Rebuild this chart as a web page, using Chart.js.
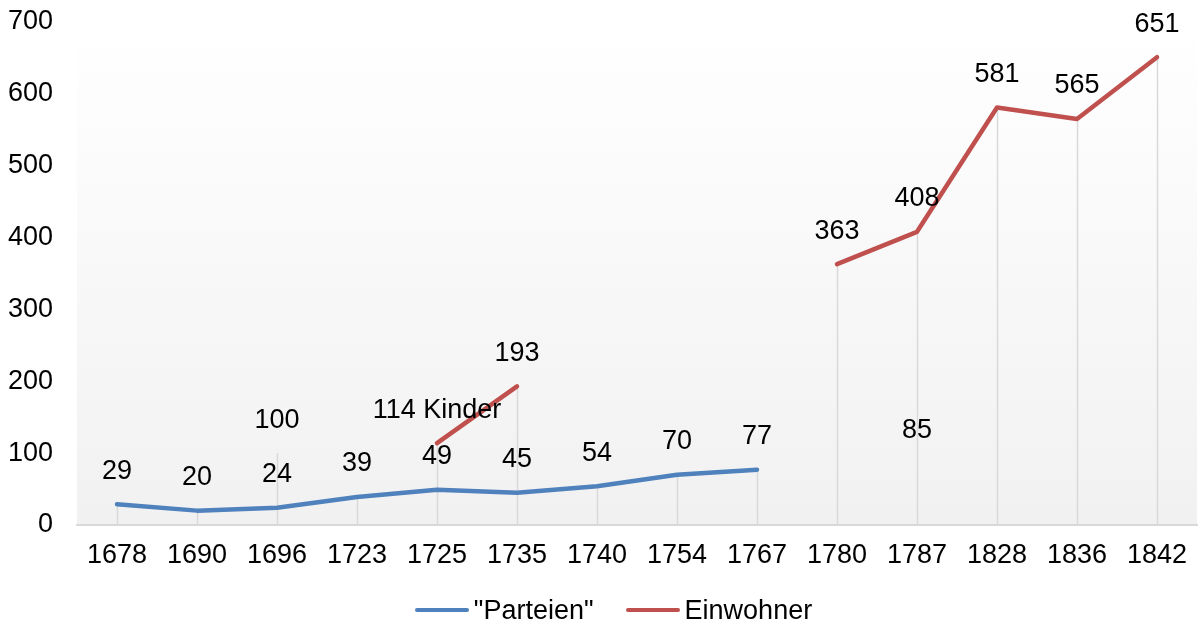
<!DOCTYPE html>
<html>
<head>
<meta charset="utf-8">
<script src="https://cdn.jsdelivr.net/npm/chart.js@4.4.1/dist/chart.umd.min.js"></script>
<style>
  html, body { margin: 0; padding: 0; background: #ffffff; }
  #wrap { width: 1203px; height: 626px; position: relative; overflow: hidden; }
  #legend { position: absolute; left: 12px; width: 1203px; top: 594px; height: 32px;
    display: flex; justify-content: center; align-items: center;
    font-family: 'Liberation Sans', Arial, sans-serif; font-size: 27px; line-height: 32px; color: #000; }
  .item { display: flex; align-items: center; margin: 0 16px; white-space: pre; }
  .swatch { display: inline-block; width: 54px; height: 4px; border-radius: 2px; margin-right: 5px; }
</style>
</head>
<body>
<div id="wrap"><canvas id="c" width="1203" height="626"></canvas><div id="legend"></div></div>
<script>
const years = ['1678','1690','1696','1723','1725','1735','1740','1754','1767','1780','1787','1828','1836','1842'];
const parteien = [29, 20, 24, 39, 49, 45, 54, 70, 77, null, null, null, null, null];
const einwohner = [null, null, null, null, 114, 193, null, null, null, 363, 408, 581, 565, 651];
const einwohnerNotes = [null, null, null, null, 'Kinder', null, null, null, null, null, null, null, null, null];
const extraValues = [null, null, 100, null, null, null, null, null, null, null, 85, null, null, null];
const yTicks = [0, 100, 200, 300, 400, 500, 600, 700];
const seriesNames = ['"Parteien"', 'Einwohner'];
const seriesColors = ['#4f81bd', '#c0504d'];

const FONT = "'Liberation Sans', Arial, sans-serif";
const FS = 27;

const bgPlugin = {
  id: 'bgGrad',
  beforeDraw(chart) {
    const { ctx, chartArea: a } = chart;
    const g = ctx.createLinearGradient(0, a.top, 0, a.bottom);
    g.addColorStop(0, '#ffffff');
    g.addColorStop(1, '#f1f1f1');
    ctx.save();
    ctx.fillStyle = g;
    ctx.fillRect(a.left, a.top, a.right - a.left, a.bottom - a.top);
    ctx.restore();
  }
};

const dropLines = {
  id: 'dropLines',
  beforeDatasetsDraw(chart) {
    const { ctx, scales: { x, y } } = chart;
    ctx.save();
    ctx.strokeStyle = '#d9d9d9';
    ctx.lineWidth = 1.5;
    years.forEach((yr, i) => {
      let m = null;
      chart.data.datasets.forEach(ds => {
        const v = ds.data[i];
        if (v !== null && v !== undefined) m = (m === null) ? v : Math.max(m, v);
      });
      if (m === null) return;
      const px = Math.round(x.getPixelForValue(i)) + 0.5;
      ctx.beginPath();
      ctx.moveTo(px, y.getPixelForValue(m));
      ctx.lineTo(px, y.getPixelForValue(0));
      ctx.stroke();
    });
    ctx.restore();
  }
};

const valueLabels = {
  id: 'valueLabels',
  afterDatasetsDraw(chart) {
    const { ctx } = chart;
    ctx.save();
    ctx.font = FS + 'px ' + FONT;
    ctx.fillStyle = '#000000';
    ctx.textAlign = 'center';
    ctx.textBaseline = 'middle';
    chart.data.datasets.forEach((ds, di) => {
      const meta = chart.getDatasetMeta(di);
      ds.data.forEach((v, i) => {
        if (v === null || v === undefined) return;
        const el = meta.data[i];
        let txt = String(v);
        if (ds.notes && ds.notes[i]) txt += ' ' + ds.notes[i];
        ctx.fillText(txt, el.x, el.y - 33);
      });
    });
    ctx.restore();
  }
};

new Chart(document.getElementById('c'), {
  type: 'line',
  data: {
    labels: years,
    datasets: [
      { label: seriesNames[0], data: parteien, borderColor: seriesColors[0], backgroundColor: seriesColors[0],
        borderWidth: 4.5, pointRadius: 0, tension: 0, borderCapStyle: 'round', borderJoinStyle: 'round', spanGaps: false },
      { label: seriesNames[1], data: einwohner, notes: einwohnerNotes, borderColor: seriesColors[1], backgroundColor: seriesColors[1],
        borderWidth: 4.5, pointRadius: 0, tension: 0, borderCapStyle: 'round', borderJoinStyle: 'round', spanGaps: false },
      { label: 'extra', data: extraValues, showLine: false, pointRadius: 0, borderWidth: 0,
        borderColor: 'rgba(0,0,0,0)', backgroundColor: 'rgba(0,0,0,0)' }
    ]
  },
  options: {
    responsive: false,
    animation: false,
    devicePixelRatio: 1,
    layout: { padding: { left: 8, right: 6, top: 22, bottom: 53 } },
    plugins: {
      tooltip: { enabled: false },
      legend: { display: false }
    },
    scales: {
      x: {
        offset: true,
        grid: { display: false, drawTicks: false },
        border: { display: true, color: '#d9d9d9', width: 2 },
        ticks: { color: '#000000', font: { family: FONT, size: FS }, padding: 14, maxRotation: 0, autoSkip: false },
        afterFit(scale) { scale.height = 48; scale.paddingLeft = 0; scale.paddingRight = 0; }
      },
      y: {
        min: 0, max: 700,
        afterBuildTicks(scale) { scale.ticks = yTicks.map(v => ({ value: v })); },
        grid: { display: false, drawTicks: false },
        border: { display: false },
        ticks: { color: '#000000', font: { family: FONT, size: FS }, padding: 24 },
        afterFit(scale) { scale.width = 69; scale.paddingTop = 0; scale.paddingBottom = 0; }
      }
    }
  },
  plugins: [bgPlugin, dropLines, valueLabels]
});

const legendEl = document.getElementById('legend');
seriesNames.forEach((name, i) => {
  const item = document.createElement('span');
  item.className = 'item';
  const sw = document.createElement('span');
  sw.className = 'swatch';
  sw.style.background = seriesColors[i];
  const tx = document.createElement('span');
  tx.textContent = name;
  item.appendChild(sw);
  item.appendChild(tx);
  legendEl.appendChild(item);
});
</script>
</body>
</html>
